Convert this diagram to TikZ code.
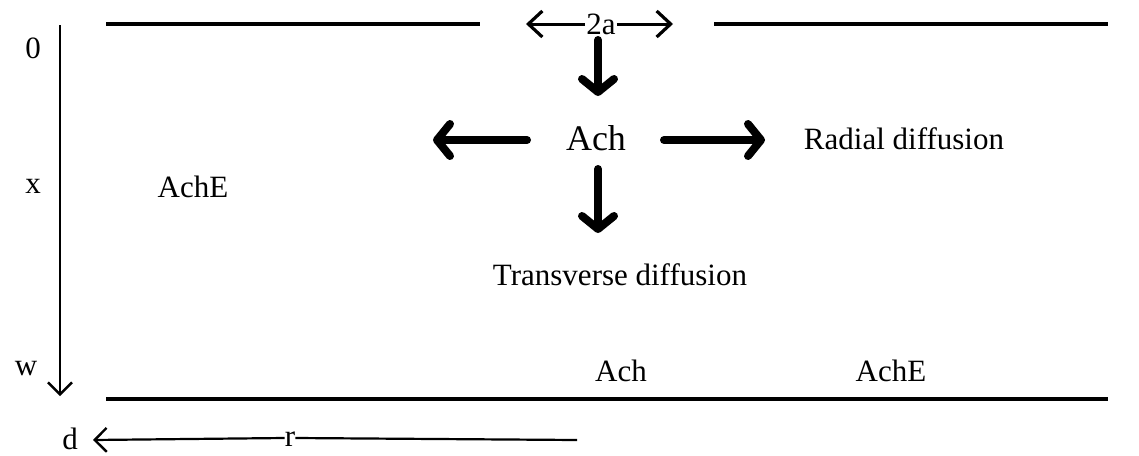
\documentclass[tikz,border=0pt]{standalone}
\usepackage{fontspec}
\setmainfont{Liberation Serif}
\usetikzlibrary{arrows.meta}
\begin{document}
\begin{tikzpicture}[x=1pt,y=-1pt,
  lbl/.style={inner sep=0pt,font=\fontsize{31}{36}\selectfont},
  big/.style={inner sep=0pt,font=\fontsize{36}{42}\selectfont},
  wall/.style={line width=4pt},
  thinline/.style={line width=2.2pt},
  thinarrow/.style={line width=2.2pt,-{Straight Barb[length=12pt,width=24pt,line width=2.4pt]}},
  midarrow/.style={line width=3pt,-{Straight Barb[length=14pt,width=26pt,line width=3.2pt]}},
  bigarrow/.style={line width=8pt,line cap=round,-{Straight Barb[length=13pt,width=32pt,line width=8pt,round]}}]
\useasboundingbox (0,0) rectangle (1139,455);
% walls
\coordinate (tl1) at (106,24); \coordinate (tl2) at (480,24);
\coordinate (tr1) at (714,24); \coordinate (tr2) at (1108,24);
\coordinate (bl) at (106,399); \coordinate (br) at (1108,399);
\draw[wall] (tl1) -- (tl2);
\draw[wall] (tr1) -- (tr2);
\draw[wall] (bl) -- (br);
% x axis
\coordinate (xa) at (60,25); \coordinate (xb) at (60,396);
\draw[thinarrow] (xa) -- (xb);
\node[lbl] (zero) at (33,48) {0};
\node[lbl] (xl) at (33,186) {x};
\node[lbl] (wl) at (26,369) {w};
% r axis
\node[lbl] (dl) at (70,439) {d};
\node[lbl] (rl) at (290,439) {r};
\coordinate (ra) at (577,440); \coordinate (rb) at (93,440);
\draw[thinline] (ra) -- ([yshift=1pt]rl.east);
\draw[thinarrow] ([yshift=1pt]rl.west) -- (rb);
% 2a
\node[lbl,fill=white,inner xsep=1pt] (twoa) at (601,24) {2a};
\coordinate (al) at (526,24); \coordinate (ar) at (673,24);
\draw[midarrow] (twoa.west) -- (al);
\draw[midarrow] (twoa.east) -- (ar);
\coordinate (d1a) at (598,40); \coordinate (d1b) at (598,96);
\draw[bigarrow] (d1a) -- (d1b);
% Ach centre
\node[big] (ach) at (596,138) {Ach};
\coordinate (lt) at (527,140); \coordinate (lh) at (433,140);
\coordinate (rt) at (664,140); \coordinate (rh) at (765,140);
\coordinate (dt) at (598,169); \coordinate (dh) at (598,233);
\draw[bigarrow] (lt) -- (lh);
\draw[bigarrow] (rt) -- (rh);
\draw[bigarrow] (dt) -- (dh);
\node[lbl] (radial) at (904,139) {Radial diffusion};
\node[lbl] (transv) at (620,275) {Transverse diffusion};
\node[lbl] (ache1) at (193,187) {AchE};
\node[lbl] (ach2) at (621,371) {Ach};
\node[lbl] (ache2) at (891,371) {AchE};
\end{tikzpicture}
\end{document}
